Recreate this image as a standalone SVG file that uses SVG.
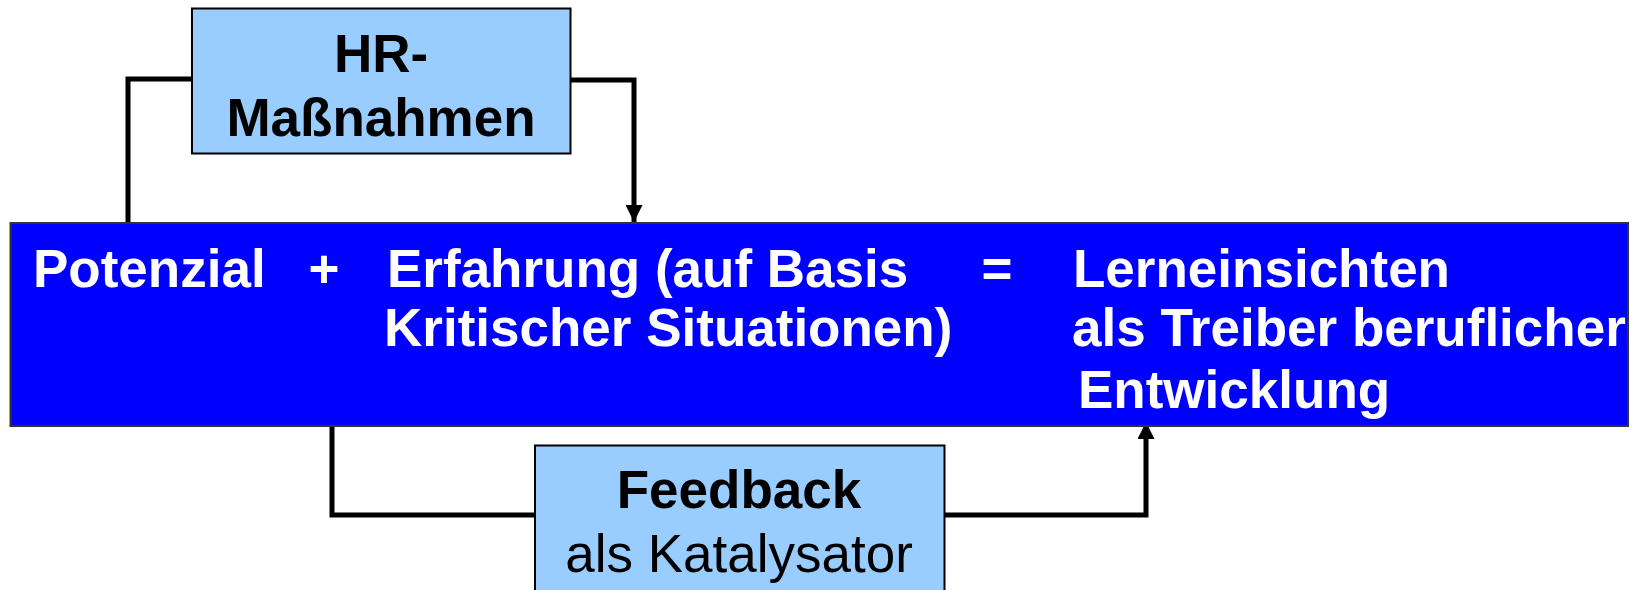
<svg xmlns="http://www.w3.org/2000/svg" width="1642" height="590" viewBox="0 0 1642 590">
<style>
.box{fill:#99CCFF;stroke:#000;stroke-width:2}
.main{fill:#0000FF;stroke:#333;stroke-width:2}
.t{font-family:"Liberation Sans",Arial,sans-serif;font-size:53px}
.b{font-weight:bold}
.w{fill:#fff}
.k{fill:#000}
.c{fill:none;stroke:#000;stroke-width:5;stroke-linejoin:miter}
</style>
<defs>
<marker id="arr" markerUnits="userSpaceOnUse" markerWidth="17" markerHeight="17" viewBox="0 0 17 17" refX="17" refY="8.5" orient="auto">
<path d="M0,0 L17,8.5 L0,17 z" fill="#000"/>
</marker>
</defs>
<g id="connectors">
<path class="c" d="M192,79 H128 V223"/>
<path class="c" d="M570,80 H634 V222" marker-end="url(#arr)"/>
<path class="c" d="M332,426 V515 H535"/>
<path class="c" d="M944,515 H1146 V422" marker-end="url(#arr)"/>
</g>
<g id="main">
<rect class="main" x="10.5" y="223" width="1617.5" height="203"/>
<text class="t b w" x="33" y="287">Potenzial</text>
<text class="t b w" x="324" y="287" text-anchor="middle">+</text>
<text class="t b w" x="387" y="287">Erfahrung (auf Basis</text>
<text class="t b w" x="384" y="346">Kritischer Situationen)</text>
<text class="t b w" x="997" y="287" text-anchor="middle">=</text>
<text class="t b w" x="1073" y="287">Lerneinsichten</text>
<text class="t b w" x="1072" y="346">als Treiber beruflicher</text>
<text class="t b w" x="1078" y="408">Entwicklung</text>
</g>
<g id="hr">
<rect class="box" x="192" y="8.5" width="378.5" height="145"/>
<text class="t b k" x="381" y="72" text-anchor="middle">HR-</text>
<text class="t b k" x="381" y="136" text-anchor="middle">Maßnahmen</text>
</g>
<g id="feedback">
<rect class="box" x="535" y="445.5" width="409.5" height="160"/>
<text class="t b k" x="739" y="508" text-anchor="middle">Feedback</text>
<text class="t k" x="739" y="572" text-anchor="middle">als Katalysator</text>
</g>
</svg>
